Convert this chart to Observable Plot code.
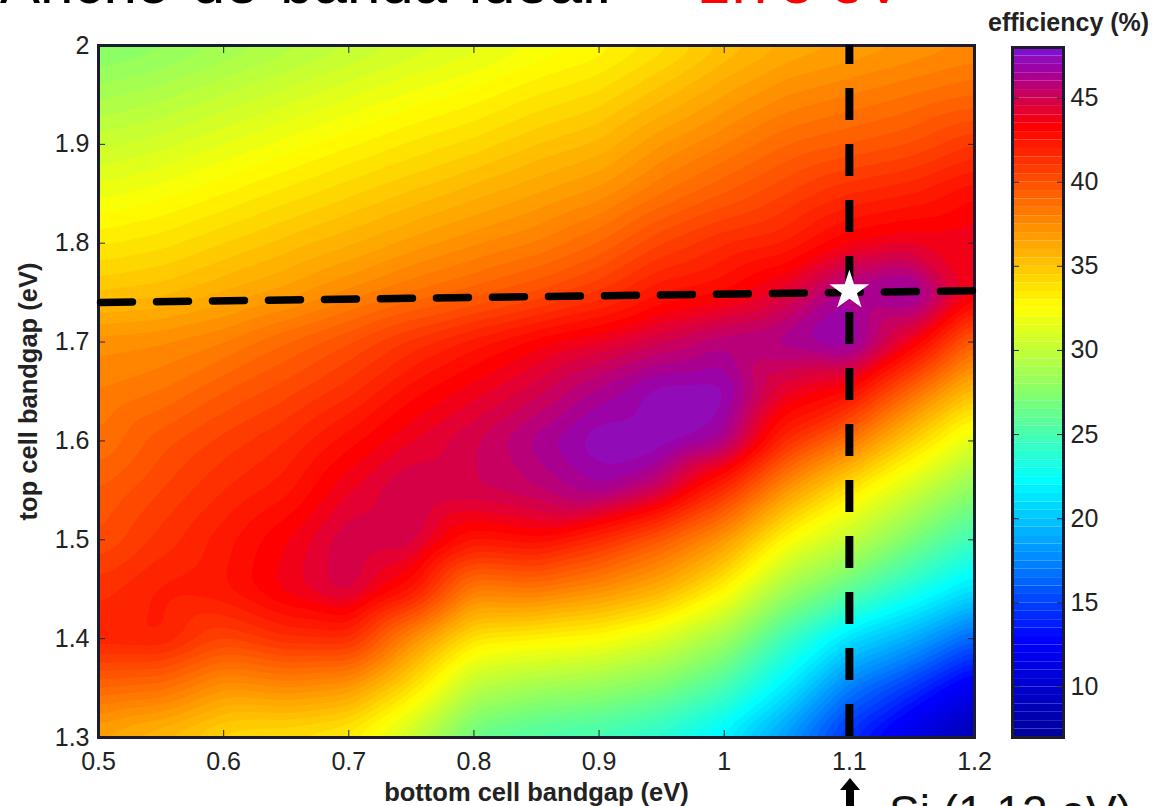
<!DOCTYPE html>
<html><head><meta charset="utf-8">
<style>
html,body{margin:0;padding:0;background:#fff;width:1157px;height:806px;overflow:hidden;font-family:"Liberation Sans",Arial,sans-serif}
#page{position:relative;width:1157px;height:806px;overflow:hidden}
#main,#bar{position:absolute;left:0;top:0}
.t{position:absolute;white-space:nowrap;line-height:1}
#arrowHead{position:absolute;left:840px;top:778px;width:0;height:0;border-left:10px solid transparent;border-right:10px solid transparent;border-bottom:12px solid #000}
#arrowShaft{position:absolute;left:846px;top:789px;width:8px;height:17px;background:#000}
</style>
<script src="https://cdn.jsdelivr.net/npm/d3@7"></script>
<script src="https://cdn.jsdelivr.net/npm/@observablehq/plot@0.6"></script>
</head><body><div id="page">
<div id="main"></div><div id="bar"></div>
<div class="t" style="left:0;top:-47px;font-size:60px;word-spacing:5px;color:#000">Ancho de banda ideal:</div>
<div class="t" style="left:697px;top:-47px;font-size:60px;color:#f00">1.75 eV</div>
<div class="t" style="left:988px;top:10px;font-size:25px;font-weight:bold;color:#222">efficiency (%)</div>
<div id="arrowHead"></div><div id="arrowShaft"></div>
<div class="t" style="left:889px;top:789px;font-size:46px;color:#111">Si (1.12 eV)</div>
</div>
<script>
const bottomGap = [0.5,0.55,0.6,0.65,0.7,0.75,0.8,0.85,0.9,0.95,1.0,1.05,1.1,1.15,1.2];
const topGap = [2.0,1.95,1.9,1.85,1.8,1.75,1.7,1.65,1.6,1.55,1.5,1.45,1.4,1.35,1.3];
const efficiency = [
[27.3,27.8,28.5,29.2,29.9,30.6,31.2,32,32.6,33.7,35,36,36.5,37,37.5],
[28.8,29.3,30,30.7,31.4,32.1,32.7,33.5,34.1,35.3,36.5,37.5,38,38.5,39],
[30.3,30.8,31.5,32.2,32.9,33.6,34.2,35,35.6,37,38,39,39.5,40,41],
[31.8,32.3,33,33.7,34.4,35.1,35.8,36.5,37.2,38.5,39.5,40.5,41.5,42,43],
[33.4,33.8,34.5,35.2,35.9,36.7,37.4,38,39,40.5,41.5,42,43.5,44,44],
[35,35.3,36,36.7,37.6,38.5,39.2,40,41,42.5,43,44.3,46.5,47.4,43.5],
[37.3,37.5,38,39,40,41.2,42.3,43.3,44,45,46,46.5,47.4,43.8,39],
[38,38.5,39.5,40.3,41.3,42.8,43.8,44.8,46.2,47.4,47.4,44,43,39,35],
[38.5,39.8,40.7,41.5,42.8,44,45,46.3,47.5,47.5,46.4,41.5,38.5,34.5,31],
[39.5,40.5,41.5,42.3,44,45.2,45,45.5,46.5,45,41.5,37,33.5,30.5,27.5],
[40,41.2,42.3,43.5,45,45,42.5,43,41.5,39.5,37,32.5,30,27,24.5],
[41.3,42.2,42.5,43.8,45,42.8,38,38.5,37.5,36,33,28.5,26,23.5,21],
[42,42.2,40.5,41.5,41.7,37.5,33.5,33,32.5,31,28.5,24.5,21,19,16],
[39,38.7,37,37.5,37,33.8,29.5,28.5,28,27,25,21.5,17,14.5,11.5],
[36.3,35.3,34,33.7,33,30,26,25,24.5,23.5,21.5,18,14,11,8]
];
const xTicks = [0.5,0.6,0.7,0.8,0.9,1,1.1,1.2];
const yTicks = [1.3,1.4,1.5,1.6,1.7,1.8,1.9,2];
const barTicks = [10,15,20,25,30,35,40,45];
const colorStops = [7,12.5,17,22,27,32.3,37,43,45,46.3,47.3,48];
const colorRange = ["#00009f","#0000ff","#0080ff","#00ffff","#80ff70","#ffff00","#ff9000","#ff0000","#c8005f","#a0009f","#8a10c0","#6a10f0"];
const levels = d3.range(7,48,0.5);
const hLine = [{x:0.5,y:1.74},{x:1.2,y:1.752}];
const optimum = [{x:1.1,y:1.752}];

const cells = efficiency.flatMap((row,i)=>row.map((v,j)=>({x:bottomGap[j],y:topGap[i],v})));
const colorScale = {type:"linear",domain:colorStops,range:colorRange};
const ink = "#222";

const main = Plot.plot({
  width:1157,height:806,marginLeft:98,marginRight:183,marginTop:45,marginBottom:69,
  style:{background:"transparent",fontFamily:"Liberation Sans, Arial, sans-serif"},
  x:{domain:[0.5,1.2]},y:{domain:[1.3,2]},color:colorScale,
  marks:[
    Plot.contour(cells,{x:"x",y:"y",fill:"v",interpolate:"barycentric",pixelSize:2,blur:5,thresholds:levels}),
    Plot.axisX({ticks:xTicks,tickSize:-7,tickPadding:22,tickFormat:d=>String(d),fontSize:25,stroke:"#222",fill:ink,label:null}),
    Plot.axisX({anchor:"top",ticks:xTicks,tickSize:-7,tickFormat:()=>"",stroke:"#222",label:null}),
    Plot.axisY({ticks:yTicks,tickSize:-7,tickPadding:16,tickFormat:d=>String(d),fontSize:25,stroke:"#222",fill:ink,label:null}),
    Plot.axisY({anchor:"right",ticks:yTicks,tickSize:-7,tickFormat:()=>"",stroke:"#222",label:null}),
    Plot.frame({stroke:"#1c1c30",strokeWidth:3}),
    Plot.line(hLine,{x:"x",y:"y",stroke:"#000",strokeWidth:7.5,strokeDasharray:"32 24",strokeDashoffset:54}),
    Plot.ruleX([1.1],{stroke:"#000",strokeWidth:8,strokeDasharray:"32 24",strokeDashoffset:13}),
    Plot.dot(optimum,{x:"x",y:"y",symbol:"star",r:12.5,fill:"#fff",stroke:"none"}),
    Plot.text(["bottom cell bandgap (eV)"],{frameAnchor:"bottom",dy:63,text:d=>d,fontSize:25.5,fontWeight:"bold",fill:ink}),
    Plot.text(["top cell bandgap (eV)"],{frameAnchor:"left",dx:-70,dy:0,rotate:-90,textAnchor:"middle",text:d=>d,fontSize:25.5,fontWeight:"bold",fill:ink})
  ]
});
document.getElementById("main").append(main);

const bar = Plot.plot({
  width:1157,height:806,marginLeft:1012,marginRight:94,marginTop:47,marginBottom:69,
  style:{background:"transparent",fontFamily:"Liberation Sans, Arial, sans-serif"},
  x:{domain:[0,1],axis:null},y:{domain:[7,48],axis:null},color:colorScale,
  marks:[
    Plot.rect(d3.range(7,48,0.5),{x1:0,x2:1,y1:d=>d,y2:d=>d+0.5,fill:d=>d}),
    Plot.axisY({anchor:"right",ticks:barTicks,tickSize:-7,tickPadding:14,tickFormat:String,fontSize:25,stroke:"#222",fill:ink,label:null}),
    Plot.axisY({anchor:"left",ticks:barTicks,tickSize:-7,tickFormat:()=>"",stroke:"#222",label:null}),
    Plot.frame({stroke:"#1c1c30",strokeWidth:3})
  ]
});
document.getElementById("bar").append(bar);
</script>
</body></html>
